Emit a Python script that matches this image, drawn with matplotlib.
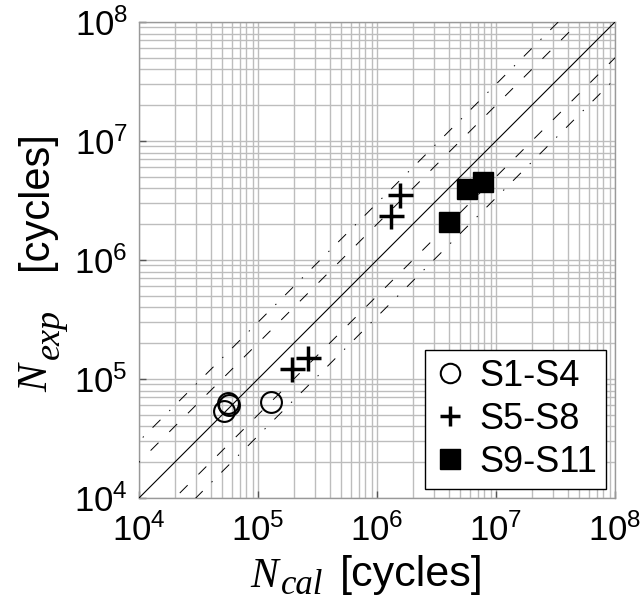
import matplotlib
matplotlib.use("Agg")
import matplotlib.pyplot as plt
import numpy as np
from matplotlib.ticker import LogLocator, LogFormatterSciNotation, NullFormatter

plt.rcParams['mathtext.fontset'] = 'custom'
plt.rcParams['mathtext.rm'] = 'Liberation Sans'
plt.rcParams['mathtext.it'] = 'Liberation Serif:italic'
plt.rcParams['font.family'] = ['Liberation Sans', 'DejaVu Sans']
plt.rcParams['lines.scale_dashes'] = False

# data (cycles)
s1_ncal = [5.2e4, 5.6e4, 5.7e4, 1.28e5]
s1_nexp = [5.4e4, 6.3e4, 6.05e4, 6.4e4]
s5_ncal = [1.93e5, 2.63e5, 1.31e6, 1.56e6]
s5_nexp = [1.21e5, 1.5e5, 2.34e6, 3.5e6]
s9_ncal = [4.03e6, 5.7e6, 7.78e6]
s9_nexp = [2.08e6, 3.95e6, 4.5e6]
labels = ['S1-S4', 'S5-S8', 'S9-S11']
factors_dashed = [2, 0.5]
factors_dashdot = [3, 1/3]
lim = [1e4, 1e8]

W, H = 643, 604
fig = plt.figure(figsize=(W / 100, H / 100), dpi=100)
ax = fig.add_axes([139/W, 1 - 498/H, 476/W, 476/H])

ax.set_xscale('log')
ax.set_yscale('log')
ax.set_xlim(lim)
ax.set_ylim(lim)

ref = np.array([1e3, 1e9])
ax.plot(ref, ref, color='black', lw=0.8, zorder=3)
for f in factors_dashed:
    ax.plot(ref, ref * f, color='black', lw=0.7, dashes=(8, 11), zorder=3)
for f in factors_dashdot:
    ax.plot(ref, ref * f, color='black', lw=0.7, dashes=(8, 9, 1, 9), zorder=3)

ax.plot(s1_ncal, s1_nexp, linestyle='none', marker='o', ms=15, mfc='none',
        mec='black', mew=1.5, label=labels[0], zorder=4)
ax.plot(s5_ncal, s5_nexp, linestyle='none', marker='+', ms=18,
        mec='black', mew=2.5, label=labels[1], zorder=4)
ax.plot(s9_ncal, s9_nexp, linestyle='none', marker='s', ms=14, mfc='black',
        mec='black', label=labels[2], zorder=4)

ax.xaxis.set_major_locator(LogLocator(base=10, numticks=10))
ax.yaxis.set_major_locator(LogLocator(base=10, numticks=10))
ax.xaxis.set_minor_locator(LogLocator(base=10, subs=np.arange(2, 10), numticks=20))
ax.yaxis.set_minor_locator(LogLocator(base=10, subs=np.arange(2, 10), numticks=20))
ax.xaxis.set_major_formatter(LogFormatterSciNotation())
ax.yaxis.set_major_formatter(LogFormatterSciNotation())
ax.xaxis.set_minor_formatter(NullFormatter())
ax.yaxis.set_minor_formatter(NullFormatter())

ax.grid(True, which='both', color='#bdbdbd', lw=1.0, zorder=0)
ax.set_axisbelow(True)
for s in ax.spines.values():
    s.set_color('#999999')
    s.set_linewidth(1.0)
ax.tick_params(which='major', direction='in', length=5, width=1, color='#555555',
               labelsize=25)
ax.tick_params(axis='x', which='major', pad=11)
ax.tick_params(axis='y', which='major', pad=8)
ax.tick_params(which='minor', direction='in', length=0)

# axis labels built from pieces (italic serif symbol with large subscript)
serif = dict(family='Liberation Serif', style='italic')
sans = dict(family='Liberation Sans')
fig.text(250/W, 1 - 587/H, 'N', size=30, ha='left', va='baseline', **serif)
fig.text(281/W, 1 - 594/H, 'cal', size=25, ha='left', va='baseline', **serif)
fig.text(340/W, 1 - 586/H, '[cycles]', size=31, ha='left', va='baseline', **sans)

fig.text(47/W, 1 - 392/H, 'N', size=30, ha='left', va='baseline',
         rotation=90, rotation_mode='anchor', **serif)
fig.text(59/W, 1 - 359/H, 'exp', size=26, ha='left', va='baseline',
         rotation=90, rotation_mode='anchor', **serif)
fig.text(47/W, 1 - 270/H, '[cycles]', size=30, ha='left', va='baseline',
         rotation=90, rotation_mode='anchor', **sans)

leg = ax.legend(loc='lower right', fontsize=26, frameon=True, fancybox=False,
                edgecolor='black', framealpha=1, handlelength=0.9,
                handletextpad=0.35, borderpad=0.25, labelspacing=0.22,
                borderaxespad=0.25)
leg.get_frame().set_linewidth(1.0)
for h in leg.legend_handles:
    h.set_markersize(14)

fig.savefig('out.png', dpi=100)
